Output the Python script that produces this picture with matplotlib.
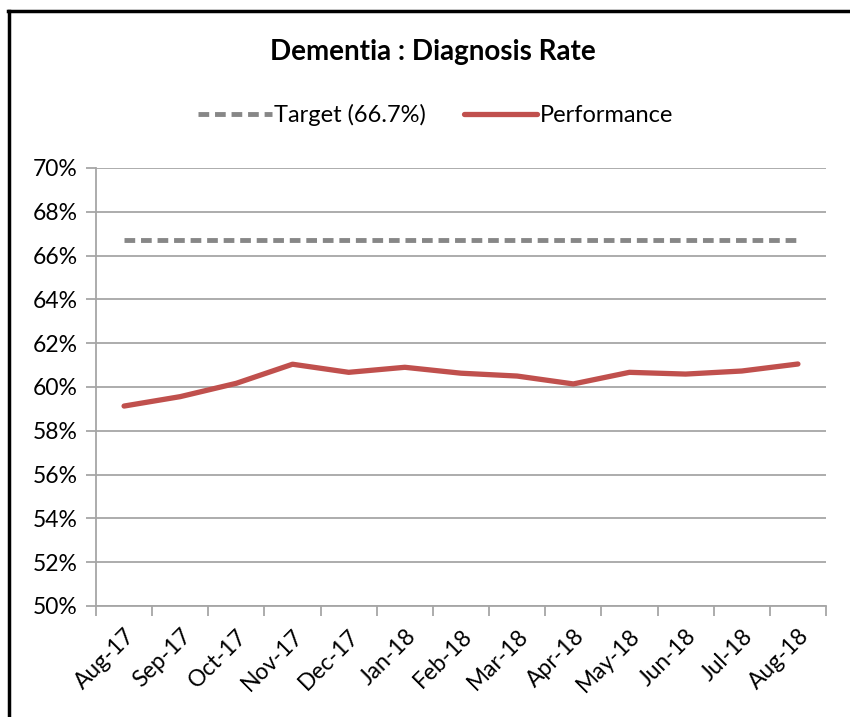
import matplotlib
matplotlib.use("Agg")
import matplotlib.pyplot as plt
from matplotlib.lines import Line2D
from matplotlib.ticker import FixedLocator, PercentFormatter
import numpy as np

months = ["Aug-17", "Sep-17", "Oct-17", "Nov-17", "Dec-17", "Jan-18", "Feb-18",
          "Mar-18", "Apr-18", "May-18", "Jun-18", "Jul-18", "Aug-18"]
performance = [59.13, 59.56, 60.17, 61.04, 60.67, 60.90, 60.63, 60.50, 60.14,
               60.67, 60.59, 60.73, 61.05]
target_value = 66.7
target = [target_value] * len(months)
y_ticks = [50, 52, 54, 56, 58, 60, 62, 64, 66, 68, 70]

plt.rcParams['font.family'] = ['Lato', 'DejaVu Sans']

fig = plt.figure(figsize=(8.5, 7.17), dpi=100)
ax = fig.add_axes([96/850, 1-606/717, 730/850, 438/717])

x = np.arange(len(months))
grid_c = "#A6A6A6"
ax.set_xlim(-0.5, len(months) - 0.5)
ax.set_ylim(50, 70)
ax.set_yticks(y_ticks)
ax.yaxis.grid(True, color=grid_c, linewidth=1.3)
ax.set_axisbelow(True)
ax.yaxis.set_major_formatter(PercentFormatter(decimals=0))

l1, = ax.plot(x, target, color="#878787", linewidth=3.5, linestyle=(0, (2.2, 1.2)),
              label="Target (66.7%)", solid_capstyle='butt', dash_capstyle='butt')
l2, = ax.plot(x, performance, color="#C0504D", linewidth=3.8, label="Performance",
              solid_joinstyle='round', solid_capstyle='round')

for s in ["top", "right"]:
    ax.spines[s].set_visible(False)
ax.spines["left"].set_color(grid_c)
ax.spines["bottom"].set_color(grid_c)
ax.spines["left"].set_linewidth(1.3)
ax.spines["bottom"].set_linewidth(1.3)

ax.set_xticks(x)
ax.set_xticklabels(months, rotation=45, ha="right", rotation_mode="anchor", fontsize=16.5)
ax.xaxis.set_minor_locator(FixedLocator(np.arange(-0.5, len(months), 1)))
ax.tick_params(axis="x", which="major", length=0, pad=14)
ax.tick_params(axis="x", which="minor", length=7, color=grid_c, width=1.3)
ax.tick_params(axis="y", length=7, color=grid_c, width=1.3, labelsize=16.5, pad=6)

fig.text(433/850, 1-52/717, "Dementia : Diagnosis Rate", ha="center", va="center",
         fontsize=20, fontweight="bold")
leg = fig.legend(handles=[l1, l2], loc="center", bbox_to_anchor=(436/850, 1-115/717),
                 ncol=2, frameon=False, fontsize=17, handlelength=3.1,
                 handletextpad=0.12, columnspacing=1.6)

fig.add_artist(Line2D([8.5/850, 8.5/850], [0, 1-11/717], color="black", linewidth=2.5,
                      transform=fig.transFigure))
fig.add_artist(Line2D([7.5/850, 1], [1-11/717, 1-11/717], color="black", linewidth=2.5,
                      transform=fig.transFigure))

fig.savefig("out.png", dpi=100)
